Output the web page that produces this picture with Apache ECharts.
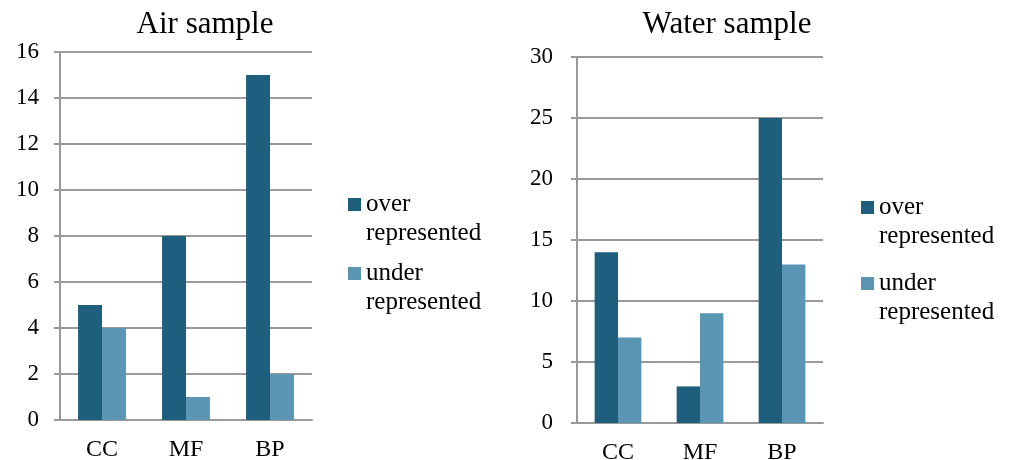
<!DOCTYPE html>
<html>
<head>
<meta charset="utf-8">
<script src="https://cdn.jsdelivr.net/npm/echarts@6/dist/echarts.min.js"></script>
<style>
  html, body { margin: 0; padding: 0; background: #fff; }
  #chart { width: 1009px; height: 460px; }
</style>
</head>
<body>
<div id="chart"></div>
<script>
// Over- and under-represented counts per group, for the two sample types
const categories = ['CC', 'MF', 'BP'];
const seriesNames = ['over represented', 'under represented'];

const airOver = [5, 8, 15];
const airUnder = [4, 1, 2];
const waterOver = [14, 3, 25];
const waterUnder = [7, 9, 13];

const airTicks = { min: 0, max: 16, interval: 2 };
const waterTicks = { min: 0, max: 30, interval: 5 };

const DARK = '#1e5f7d';
const LIGHT = '#5b95b4';
const GRID_LINE = '#9a9a9a';
const FONT = '"Liberation Serif", "DejaVu Serif", serif';

function yAxisFor(idx, ticks, margin) {
  return {
    type: 'value', gridIndex: idx,
    min: ticks.min, max: ticks.max, interval: ticks.interval,
    axisLine: { show: true, lineStyle: { color: GRID_LINE, width: 2 } },
    axisTick: { show: true, length: 6, lineStyle: { color: GRID_LINE, width: 2 } },
    splitLine: { show: true, lineStyle: { color: GRID_LINE, width: 2 } },
    axisLabel: { fontFamily: FONT, fontSize: 23, color: '#000', margin: margin }
  };
}

function xAxisFor(idx) {
  return {
    type: 'category', gridIndex: idx, data: categories,
    axisLine: { show: true, lineStyle: { color: GRID_LINE, width: 2 } },
    axisTick: { show: false },
    axisLabel: { fontFamily: FONT, fontSize: 24, color: '#000', margin: 18 }
  };
}

function bar(name, idx, values, color) {
  return {
    name: name, type: 'bar', xAxisIndex: idx, yAxisIndex: idx,
    data: values, barGap: '0%', barCategoryGap: '43%',
    itemStyle: { color: color }
  };
}

// One legend block per entry; a blank leading line keeps the icon
// level with the first word of the two-line label
function legendEntry(name, left, top) {
  return {
    data: [name], left: left, top: top, orient: 'vertical',
    padding: 0, itemWidth: 13, itemHeight: 13, itemGap: 0,
    icon: 'rect', selectedMode: false,
    formatter: n => ' \n' + n.replace(' ', '\n'),
    textStyle: {
      fontFamily: FONT, fontSize: 25, color: '#000', lineHeight: 29
    }
  };
}

const chart = echarts.init(document.getElementById('chart'));
chart.setOption({
  animation: false,
  backgroundColor: '#fff',
  title: [
    { text: 'Air sample', left: 200, top: 4, textAlign: 'center',
      textStyle: { fontFamily: FONT, fontSize: 31, fontWeight: 'normal', color: '#000' } },
    { text: 'Water sample', left: 722, top: 4, textAlign: 'center',
      textStyle: { fontFamily: FONT, fontSize: 31, fontWeight: 'normal', color: '#000' } }
  ],
  legend: [
    legendEntry(seriesNames[0], 348, 161),
    legendEntry(seriesNames[1], 348, 230),
    legendEntry(seriesNames[0], 861, 164),
    legendEntry(seriesNames[1], 861, 240)
  ],
  grid: [
    { left: 60, right: 697, top: 52, bottom: 40, outerBoundsMode: 'none', containLabel: false },
    { left: 577, right: 186, top: 57, bottom: 37, outerBoundsMode: 'none', containLabel: false }
  ],
  xAxis: [xAxisFor(0), xAxisFor(1)],
  yAxis: [yAxisFor(0, airTicks, 21), yAxisFor(1, waterTicks, 24)],
  series: [
    bar(seriesNames[0], 0, airOver, DARK),
    bar(seriesNames[1], 0, airUnder, LIGHT),
    bar(seriesNames[0], 1, waterOver, DARK),
    bar(seriesNames[1], 1, waterUnder, LIGHT)
  ]
});
</script>
</body>
</html>
